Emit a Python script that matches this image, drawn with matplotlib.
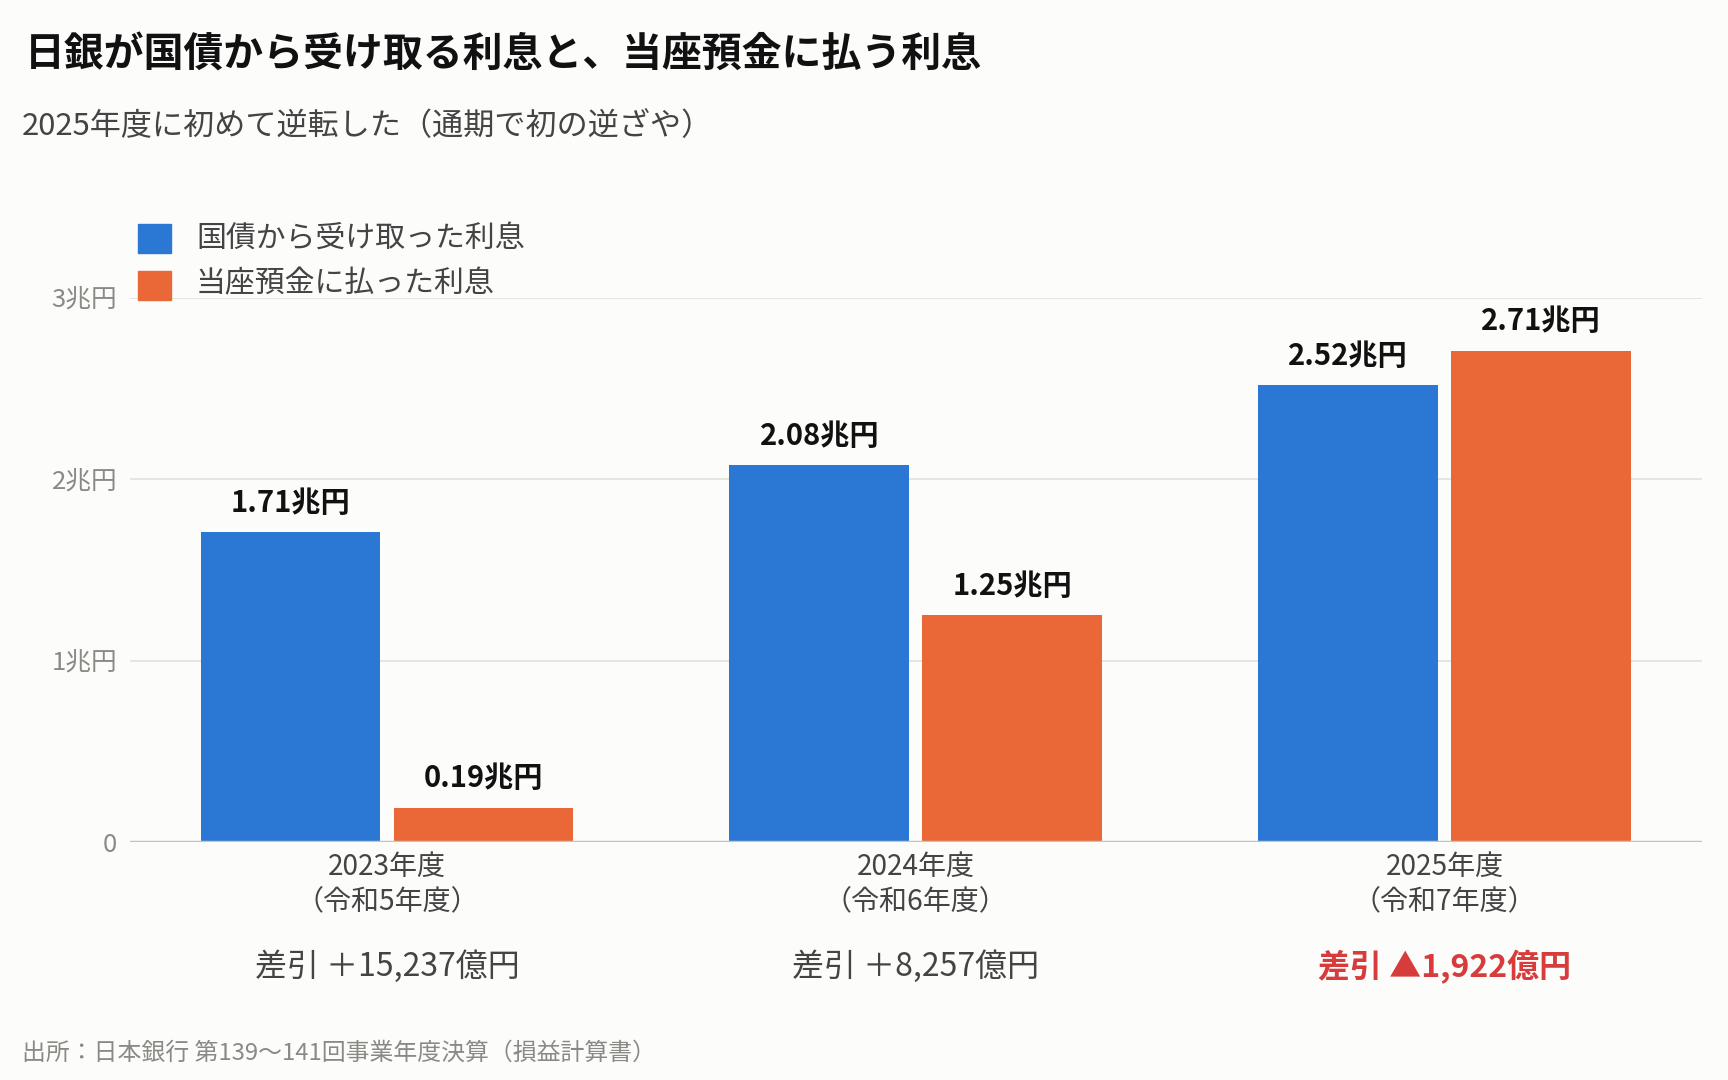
import matplotlib
matplotlib.use('Agg')
import matplotlib.pyplot as plt
import matplotlib.transforms as mtransforms
import numpy as np

plt.rcParams['font.family'] = ['Noto Sans CJK JP', 'DejaVu Sans']

# data
years = ['2023年度\n（令和5年度）', '2024年度\n（令和6年度）', '2025年度\n（令和7年度）']
received = [1.71, 2.08, 2.52]   # 国債から受け取った利息（兆円）
paid = [0.19, 1.25, 2.71]       # 当座預金に払った利息（兆円）
diff_labels = ['差引 ＋15,237億円', '差引 ＋8,257億円', '差引 ▲1,922億円']
yticks = [0, 1, 2, 3]
ytick_labels = ['0', '1兆円', '2兆円', '3兆円']

BLUE = '#2a78d4'
ORANGE = '#ea6837'
RED = '#d63c3c'
BG = '#fcfcfb'

fig = plt.figure(figsize=(17.28, 10.8), dpi=100, facecolor=BG)
ax = fig.add_axes([130 / 1728, 1 - 842 / 1080, (1702 - 130) / 1728, (842 - 298) / 1080])
ax.set_facecolor(BG)

x = np.arange(len(years))
w = 0.34
off = 0.1825
b1 = ax.bar(x - off, received, w, color=BLUE, zorder=3)
b2 = ax.bar(x + off, paid, w, color=ORANGE, zorder=3)

for bars in (b1, b2):
    for rect in bars:
        v = rect.get_height()
        ax.annotate(f'{v:.2f}兆円', (rect.get_x() + rect.get_width() / 2, v),
                    xytext=(0, 21), textcoords='offset points', ha='center', va='center',
                    fontsize=21, fontweight='bold', color='#111111', zorder=4)

ax.set_xlim(-0.486, 2.487)
ax.set_ylim(0, 3)
ax.set_yticks(yticks)
ax.set_yticklabels(ytick_labels)
ax.set_xticks(x)
ax.set_xticklabels(years, linespacing=1.2)
ax.tick_params(axis='y', length=0, pad=9, labelsize=18.5, labelcolor='#8a8a85')
ax.tick_params(axis='x', length=0, pad=7, labelsize=20.2, labelcolor='#444444')
for s in ax.spines.values():
    s.set_visible(False)
for yv in yticks[1:]:
    ax.axhline(yv, color='#e6e6e1', lw=1.5, zorder=1)
ax.axhline(0, color='#c4c4bc', lw=2.5, zorder=4)

# 差引
tr = mtransforms.blended_transform_factory(ax.transData, fig.transFigure)
for i, lab in enumerate(diff_labels):
    neg = '▲' in lab
    ax.text(x[i], 1 - 967 / 1080, lab, transform=tr, ha='center', va='center',
            fontsize=23, color=RED if neg else '#444444',
            fontweight='bold' if neg else 'normal')

# legend
fig.patches.append(plt.Rectangle((138 / 1728, 1 - 253 / 1080), 33 / 1728, 29 / 1080,
                                 transform=fig.transFigure, color=BLUE))
fig.patches.append(plt.Rectangle((138 / 1728, 1 - 300 / 1080), 33 / 1728, 29 / 1080,
                                 transform=fig.transFigure, color=ORANGE))
fig.text(196 / 1728, 1 - 238 / 1080, '国債から受け取った利息', fontsize=21.5, color='#444444', va='center')
fig.text(196 / 1728, 1 - 284 / 1080, '当座預金に払った利息', fontsize=21.5, color='#444444', va='center')

fig.text(25 / 1728, 1 - 55 / 1080, '日銀が国債から受け取る利息と、当座預金に払う利息',
         fontsize=28.7, fontweight='bold', color='#111111', va='center')
fig.text(22 / 1728, 1 - 127 / 1080, '2025年度に初めて逆転した（通期で初の逆ざや）',
         fontsize=22.4, color='#444444', va='center')
fig.text(22 / 1728, 1 - 1053 / 1080, '出所：日本銀行 第139〜141回事業年度決算（損益計算書）',
         fontsize=17.2, color='#8a8a85', va='center')

fig.savefig('out.png', dpi=100, facecolor=BG)
